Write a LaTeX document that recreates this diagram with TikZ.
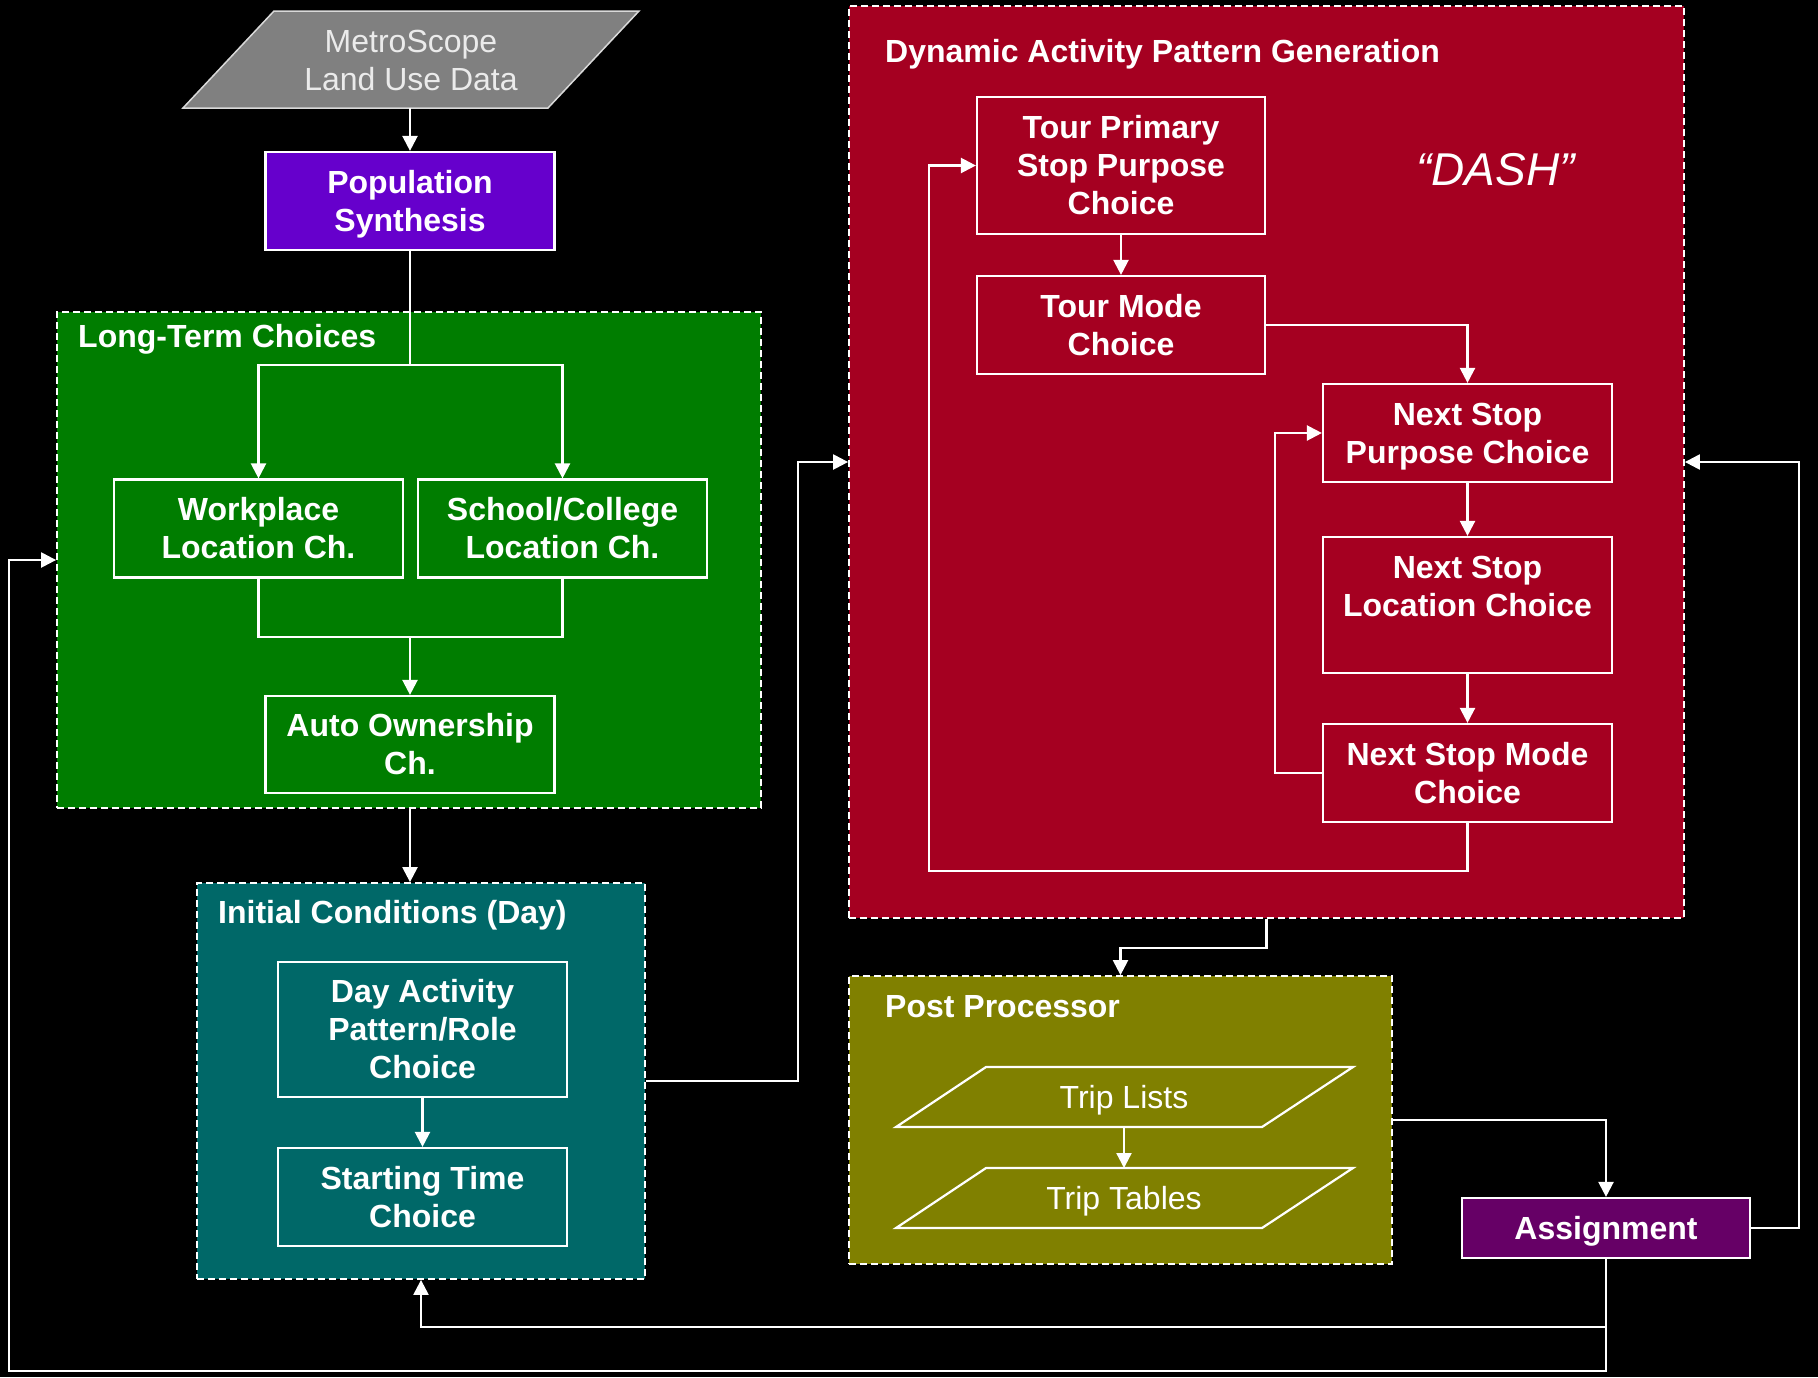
\documentclass[tikz,border=0pt]{standalone}
\usepackage{fontspec}
\setmainfont{Liberation Sans}
\usetikzlibrary{arrows.meta}
\definecolor{popc}{HTML}{6600CC}
\definecolor{ltc}{HTML}{007D00}
\definecolor{icc}{HTML}{006868}
\definecolor{dapc}{HTML}{A50021}
\definecolor{ppc}{HTML}{808000}
\definecolor{asc}{HTML}{660066}
\definecolor{metc}{HTML}{808080}
\begin{document}
\begin{tikzpicture}[x=1pt,y=-1pt,
  box/.style={draw=white, line width=2.2pt, text=white, font=\fontsize{32}{38}\selectfont\bfseries, align=center, inner sep=0pt, minimum width=289pt, minimum height=98pt},
  grp/.style={draw=white, line width=1.8pt, dash pattern=on 7pt off 4pt, inner sep=0pt},
  ttl/.style={text=white, font=\fontsize{32}{38}\selectfont\bfseries, anchor=base west, inner sep=0pt},
  conn/.style={draw=white, line width=2.3pt},
  arr/.style={conn, -{Triangle[length=15pt,width=15pt]}},
  data/.style={text=white, font=\fontsize{32}{38}\selectfont, align=center, inner sep=0pt},
  para/.style={draw=white, line width=2.2pt}
]
\fill[black] (0,0) rectangle (1818,1377);
\useasboundingbox (0,0) rectangle (1818,1377);

% containers
\node[grp, fill=ltc, minimum width=704pt, minimum height=496pt] (lt) at (409,560) {};
\node[grp, fill=icc, minimum width=448pt, minimum height=396pt] (ic) at (421,1081) {};
\node[grp, fill=dapc, minimum width=835pt, minimum height=912pt] (dapg) at (1266.5,462) {};
\node[grp, fill=ppc, minimum width=543pt, minimum height=288pt] (pp) at (1120.5,1120) {};

% titles
\node[ttl] (ltt) at (78,347) {Long-Term Choices};
\node[ttl] (ict) at (218,923) {Initial Conditions (Day)};
\node[ttl] (dapt) at (885,62) {Dynamic Activity Pattern Generation};
\node[ttl] (ppt) at (885,1017) {Post Processor};
\node[anchor=base west, inner sep=0pt, text=white, font=\fontsize{46}{50}\selectfont\itshape] (dash) at (1416,185) {“DASH”};

% metroscope data
\fill[metc, draw=white!85!black, line width=1.5pt] (274,11) -- (639,11) -- (548,108) -- (183,108) -- cycle;
\node[data, text=white!92!black] (metro) at (411,60) {MetroScope\\\smash{Land Use Data}};
\coordinate (metrob) at (410,108);

% boxes
\node[box, fill=popc] (pop) at (410,201) {Population\\\smash{Synthesis}};
\node[box, fill=ltc] (work) at (258.5,528.5) {Workplace\\Location Ch.};
\node[box, fill=ltc] (school) at (562.5,528.5) {School/College\\Location Ch.};
\node[box, fill=ltc, minimum height=97pt] (auto) at (410,744.5) {Auto Ownership\\Ch.};
\node[box, fill=icc, minimum height=135pt] (dayact) at (422.5,1029.5) {Day Activity\\Pattern/Role\\Choice};
\node[box, fill=icc] (start) at (422.5,1197) {Starting Time\\Choice};
\node[box, fill=dapc, minimum width=288pt, minimum height=137pt] (tourprim) at (1121,165.5) {Tour Primary\\Stop Purpose\\Choice};
\node[box, fill=dapc, minimum width=288pt] (tourmode) at (1121,325) {Tour Mode\\Choice};
\node[box, fill=dapc] (nsp) at (1467.5,433) {Next Stop\\\smash{Purpose Choice}};
\node[box, fill=dapc, minimum height=136pt] (nsl) at (1467.5,605) {Next Stop\\Location Choice\\\mbox{}};
\node[box, fill=dapc] (nsm) at (1467.5,773) {Next Stop Mode\\Choice};
\node[box, fill=asc, minimum width=288pt, minimum height=60pt, align=none, text depth=0pt] (assign) at (1606,1228) {Assignment};

% trip data
\draw[para] (986,1067) -- (1353,1067) -- (1262,1127) -- (896,1127) -- cycle;
\draw[para] (986,1168) -- (1353,1168) -- (1262,1228) -- (896,1228) -- cycle;
\node[data, anchor=base] (tl) at (1124,1108) {Trip Lists};
\node[data, anchor=base] (tt) at (1124,1209) {Trip Tables};
\coordinate (tlb) at (1124,1127);
\coordinate (ttt) at (1124,1168);

% connectors
\draw[arr] (metrob) -- (pop.north);
\coordinate (split) at (410,365);
\draw[conn] (pop.south) -- (split);
\draw[arr] (split) -| (work.north);
\draw[arr] (split) -| (school.north);
\coordinate (merge) at (410,637);
\draw[conn] (work.south) |- (merge) -| (school.south);
\draw[arr] (merge) -- (auto.north);
\draw[arr] (auto.south |- lt.south) -- (auto.south |- ic.north);
\draw[arr] (dayact.south) -- (start.north);
\draw[arr] (ic.east) -- ++(152,0) |- (dapg.west);
\draw[arr] (tourprim.south) -- (tourmode.north);
\draw[arr] (tourmode.east) -| (nsp.north);
\draw[arr] (nsp.south) -- (nsl.north);
\draw[arr] (nsl.south) -- (nsm.north);
\draw[arr] (nsm.west) -- ++(-47,0) |- (nsp.west);
\draw[arr] (nsm.south) |- (929,871) |- (tourprim.west);
\draw[arr] (dapg.south) -- ++(0,29) -| (pp.north);
\draw[arr] (tlb) -- (ttt);
\draw[arr] (pp.east) -| (assign.north);
\draw[arr] (assign.east) -- ++(48,0) |- (dapg.east);
\draw[arr] (assign.south) |- (9,1371) |- (lt.west);
\draw[arr] (assign.south |- 0,1327) -| (ic.south);
\end{tikzpicture}
\end{document}
